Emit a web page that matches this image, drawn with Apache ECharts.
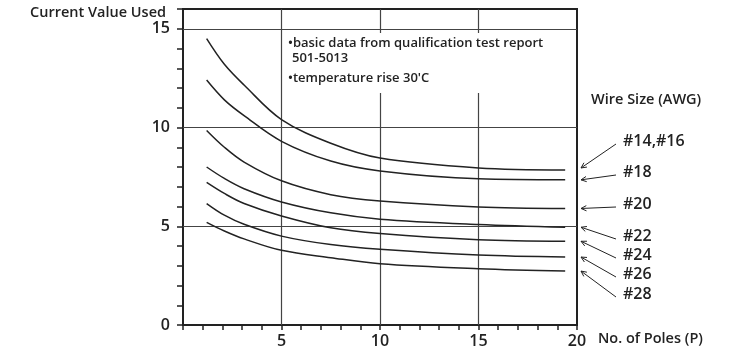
<!DOCTYPE html>
<html>
<head>
<meta charset="utf-8">
<script src="https://cdn.jsdelivr.net/npm/echarts@6/dist/echarts.min.js"></script>
<style>
html, body { margin: 0; padding: 0; background: #fff; }
#main { width: 746px; height: 351px; }
</style>
</head>
<body>
<div id="main"></div>
<script>
var poles = [1.2, 2.1, 3.1, 5, 7.5, 10, 15, 19.4];
var wireSizes = ['#14,#16', '#18', '#20', '#22', '#24', '#26', '#28'];
// current value used per wire size
var awg14_16 = [14.5, 13.2, 12.15, 10.4, 9.2, 8.45, 7.95, 7.85];
var awg18 = [12.4, 11.4, 10.6, 9.3, 8.3, 7.8, 7.4, 7.35];
var awg20 = [9.85, 9.0, 8.25, 7.3, 6.6, 6.28, 5.98, 5.9];
var awg22 = [8.0, 7.42, 6.9, 6.23, 5.68, 5.36, 5.09, 4.95];
var awg24 = [7.22, 6.66, 6.15, 5.52, 4.92, 4.63, 4.32, 4.24];
var awg26 = [6.15, 5.56, 5.1, 4.5, 4.07, 3.83, 3.54, 3.44];
var awg28 = [5.2, 4.76, 4.36, 3.78, 3.41, 3.1, 2.85, 2.73];
var curves = [awg14_16, awg18, awg20, awg22, awg24, awg26, awg28];
var gridX = [5, 10, 15];
var gridY = [5, 10, 15];

var font = '"Open Sans", "DejaVu Sans", sans-serif';
var ink = '#222';

var myChart = echarts.init(document.getElementById('main'));

var series = [];
for (var i = 0; i < curves.length; i++) {
	var pts = [];
	for (var j = 0; j < poles.length; j++) {
		pts.push([poles[j], curves[i][j]]);
	}
	series.push({
		name: wireSizes[i],
		type: 'line',
		smooth: 0.35,
		symbol: 'none',
		lineStyle: { color: ink, width: 1.5 },
		data: pts,
		z: 4
	});
}
// grid lines at 5/10/15 drawn as markLine on the first series
var gridLines = [];
for (var i = 0; i < gridY.length; i++) gridLines.push({ yAxis: gridY[i] });
for (var i = 0; i < gridX.length; i++) gridLines.push({ xAxis: gridX[i] });
series[0].markLine = {
	silent: true,
	symbol: 'none',
	label: { show: false },
	lineStyle: { color: '#444', width: 1.2, type: 'solid' },
	data: gridLines,
	z: 1
};

var option = {
	animation: false,
	grid: {
		left: 183,
		right: 169,
		top: 9,
		bottom: 26,
		show: true,
		borderColor: ink,
		borderWidth: 2,
		backgroundColor: 'transparent'
	},
	xAxis: {
		type: 'value',
		min: 0,
		max: 20,
		interval: 1,
		axisLine: { lineStyle: { color: ink, width: 2 } },
		axisTick: { show: true, length: 5, lineStyle: { color: ink, width: 1.5 } },
		splitLine: { show: false },
		axisLabel: {
			margin: 8,
			color: ink,
			fontSize: 16,
			fontWeight: 600,
			fontFamily: font,
			formatter: function(v) { return (v > 0 && v % 5 === 0) ? String(v) : ''; }
		}
	},
	yAxis: {
		type: 'value',
		min: 0,
		max: 16,
		interval: 1,
		axisLine: { show: true, lineStyle: { color: ink, width: 2 } },
		axisTick: { show: true, length: 6, lineStyle: { color: ink, width: 1.5 } },
		splitLine: { show: false },
		axisLabel: {
			margin: 13,
			color: ink,
			fontSize: 16,
			fontWeight: 600,
			fontFamily: font,
			formatter: function(v) { return (v % 5 === 0 && v < 16) ? String(v) : ''; }
		}
	},
	series: series
};
myChart.setOption(option);

// annotation texts and the arrows pointing at each curve end
var labelY = [144, 175, 207, 239, 258, 277, 297];
var graphics = [
	{ type: 'text', left: 30, top: 5, z: 10, style: { text: 'Current Value Used', font: '600 14.5px ' + font, fill: ink } },
	{ type: 'text', left: 591, top: 92, z: 10, style: { text: 'Wire Size (AWG)', font: '600 14.5px ' + font, fill: ink } },
	{ type: 'text', left: 598, top: 331, z: 10, style: { text: 'No. of Poles (P)', font: '600 14.5px ' + font, fill: ink } },
	{ type: 'rect', shape: { x: 286, y: 33, width: 274, height: 60 }, style: { fill: '#fff' }, z: 8 },
	{ type: 'text', left: 288, top: 37, z: 10, style: { text: '•basic data from qualification test report', font: '600 13px ' + font, fill: ink } },
	{ type: 'text', left: 292, top: 52, z: 10, style: { text: '501-5013', font: '600 13px ' + font, fill: ink } },
	{ type: 'text', left: 288, top: 72, z: 10, style: { text: '•temperature rise 30\'C', font: '600 13px ' + font, fill: ink } }
];
for (var i = 0; i < curves.length; i++) {
	var tip = myChart.convertToPixel({ gridIndex: 0 }, [20, curves[i][curves[i].length - 1]]);
	var tx = tip[0] + 4, ty = tip[1] - (i === 0 ? 2 : 0);
	var sx = 616, sy = labelY[i];
	var ang = Math.atan2(sy - ty, sx - tx);
	var hl = 6, ha = 0.45;
	graphics.push({ type: 'line', z: 10, shape: { x1: sx, y1: sy, x2: tx, y2: ty }, style: { stroke: ink, lineWidth: 1 } });
	graphics.push({ type: 'polyline', z: 10, shape: { points: [
		[tx + hl * Math.cos(ang + ha), ty + hl * Math.sin(ang + ha)],
		[tx, ty],
		[tx + hl * Math.cos(ang - ha), ty + hl * Math.sin(ang - ha)]
	] }, style: { stroke: ink, lineWidth: 1, fill: null } });
	graphics.push({ type: 'text', left: 623, top: labelY[i] - 11, z: 10, style: { text: wireSizes[i], font: '600 16px ' + font, fill: ink } });
}
myChart.setOption({ graphic: graphics });
window.onresize = myChart.resize;
</script>
</body>
</html>
